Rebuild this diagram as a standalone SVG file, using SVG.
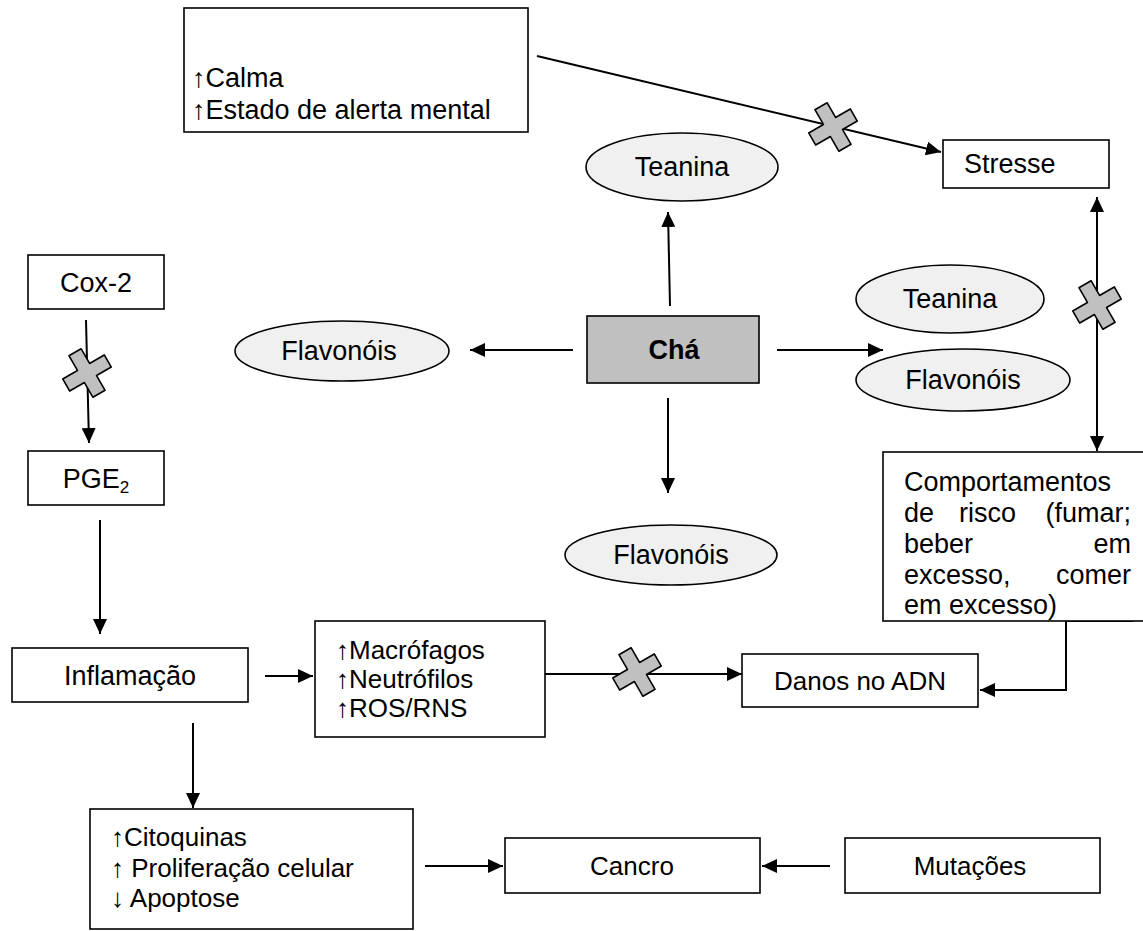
<svg xmlns="http://www.w3.org/2000/svg" width="1143" height="931" viewBox="0 0 1143 931">
<style>
.box{fill:#fff;stroke:#000;stroke-width:1.6}
.ell{fill:#f0f0f0;stroke:#000;stroke-width:1.6}
.cha{fill:#c0c0c0;stroke:#000;stroke-width:1.6}
.t{font-family:"Liberation Sans",Arial,sans-serif;font-size:27px;fill:#000}
.s{font-size:26px}
.c{text-anchor:middle}
.e{text-anchor:end}
.b{font-weight:bold}
.ln{fill:none;stroke:#000;stroke-width:2}
.x{fill:#c0c0c0;stroke:#000;stroke-width:1.6;stroke-linejoin:round}
</style>
<defs>
<marker id="ah" markerUnits="userSpaceOnUse" markerWidth="15" markerHeight="14" refX="15" refY="7" orient="auto-start-reverse">
<path d="M0,0 L15,7 L0,14 z" fill="#000"/>
</marker>
<polygon id="xm" class="x" points="-7,-24 7,-24 7,-7 24,-7 24,7 7,7 7,24 -7,24 -7,7 -24,7 -24,-7 -7,-7"/>
</defs>
<rect width="1143" height="931" fill="#fff"/>

<g id="connectors">
<line class="ln" x1="537" y1="56" x2="941" y2="152" marker-end="url(#ah)"/>
<line class="ln" x1="670" y1="306" x2="668" y2="212" marker-end="url(#ah)"/>
<line class="ln" x1="573" y1="350" x2="470" y2="350" marker-end="url(#ah)"/>
<line class="ln" x1="777" y1="350" x2="883" y2="350" marker-end="url(#ah)"/>
<line class="ln" x1="668" y1="398" x2="668" y2="493" marker-end="url(#ah)"/>
<line class="ln" x1="1097" y1="197" x2="1097" y2="451" marker-start="url(#ah)" marker-end="url(#ah)"/>
<line class="ln" x1="86" y1="320" x2="89" y2="443" marker-end="url(#ah)"/>
<line class="ln" x1="100" y1="520" x2="100" y2="634" marker-end="url(#ah)"/>
<line class="ln" x1="265" y1="676" x2="313" y2="676" marker-end="url(#ah)"/>
<line class="ln" x1="545" y1="674" x2="742" y2="674" marker-end="url(#ah)"/>
<path class="ln" d="M1133,621 H1066 V690 H980" marker-end="url(#ah)"/>
<line class="ln" x1="193" y1="723" x2="193" y2="808" marker-end="url(#ah)"/>
<line class="ln" x1="425" y1="866" x2="503" y2="866" marker-end="url(#ah)"/>
<line class="ln" x1="830" y1="866" x2="762" y2="866" marker-end="url(#ah)"/>
<use href="#xm" transform="translate(833,127) rotate(-30)"/>
<use href="#xm" transform="translate(87,373) rotate(-30)"/>
<use href="#xm" transform="translate(1097,305) rotate(-30)"/>
<use href="#xm" transform="translate(637,672) rotate(-30)"/>
</g>

<g id="calma">
<rect class="box" x="184" y="8" width="344" height="124"/>
<text class="t" x="192" y="87">↑Calma</text>
<text class="t" x="192" y="119">↑Estado de alerta mental</text>
</g>
<g id="stresse">
<rect class="box" x="943" y="140" width="166" height="48"/>
<text class="t" x="964" y="173">Stresse</text>
</g>
<g id="teanina1">
<ellipse class="ell" cx="682" cy="167" rx="96" ry="34"/>
<text class="t c" x="682" y="176">Teanina</text>
</g>
<g id="cox2">
<rect class="box" x="28" y="255" width="136" height="54"/>
<text class="t c" x="96" y="292">Cox-2</text>
</g>
<g id="teanina2">
<ellipse class="ell" cx="950" cy="299" rx="94" ry="34"/>
<text class="t c" x="950" y="308">Teanina</text>
</g>
<g id="cha">
<rect class="cha" x="587" y="316" width="172" height="67"/>
<text class="t c b" x="674" y="359">Chá</text>
</g>
<g id="flavonois1">
<ellipse class="ell" cx="342" cy="351" rx="107" ry="30"/>
<text class="t c" x="339" y="360">Flavonóis</text>
</g>
<g id="flavonois2">
<ellipse class="ell" cx="963" cy="380" rx="107" ry="31"/>
<text class="t c" x="963" y="389">Flavonóis</text>
</g>
<g id="pge2">
<rect class="box" x="28" y="451" width="136" height="54"/>
<text class="t c" x="96" y="488">PGE<tspan font-size="17" dy="5">2</tspan></text>
</g>
<g id="comportamentos">
<rect class="box" x="883" y="452" width="270" height="169"/>
<text class="t" x="904" y="491">Comportamentos</text>
<text class="t" x="904" y="522">de</text>
<text class="t" x="959" y="522">risco</text>
<text class="t e" x="1131" y="522">(fumar;</text>
<text class="t" x="904" y="553">beber</text>
<text class="t e" x="1131" y="553">em</text>
<text class="t" x="904" y="584">excesso,</text>
<text class="t e" x="1131" y="584">comer</text>
<text class="t" x="904" y="614">em excesso)</text>
</g>
<g id="flavonois3">
<ellipse class="ell" cx="671" cy="555" rx="106" ry="30"/>
<text class="t c" x="671" y="564">Flavonóis</text>
</g>
<g id="inflamacao">
<rect class="box" x="12" y="648" width="236" height="54"/>
<text class="t c" x="130" y="685">Inflamação</text>
</g>
<g id="macrofagos">
<rect class="box" x="315" y="621" width="230" height="116"/>
<text class="t s" x="336" y="659">↑Macrófagos</text>
<text class="t s" x="336" y="688">↑Neutrófilos</text>
<text class="t s" x="336" y="717">↑ROS/RNS</text>
</g>
<g id="danos">
<rect class="box" x="742" y="654" width="236" height="53"/>
<text class="t s c" x="860" y="690">Danos no ADN</text>
</g>
<g id="citoquinas">
<rect class="box" x="90" y="809" width="323" height="120"/>
<text class="t s" x="111" y="846">↑Citoquinas</text>
<text class="t s" x="111" y="877">↑ Proliferação celular</text>
<text class="t s" x="111" y="907">↓ Apoptose</text>
</g>
<g id="cancro">
<rect class="box" x="505" y="838" width="255" height="55"/>
<text class="t s c" x="632" y="875">Cancro</text>
</g>
<g id="mutacoes">
<rect class="box" x="845" y="838" width="255" height="55"/>
<text class="t s c" x="970" y="875">Mutações</text>
</g>
</svg>
